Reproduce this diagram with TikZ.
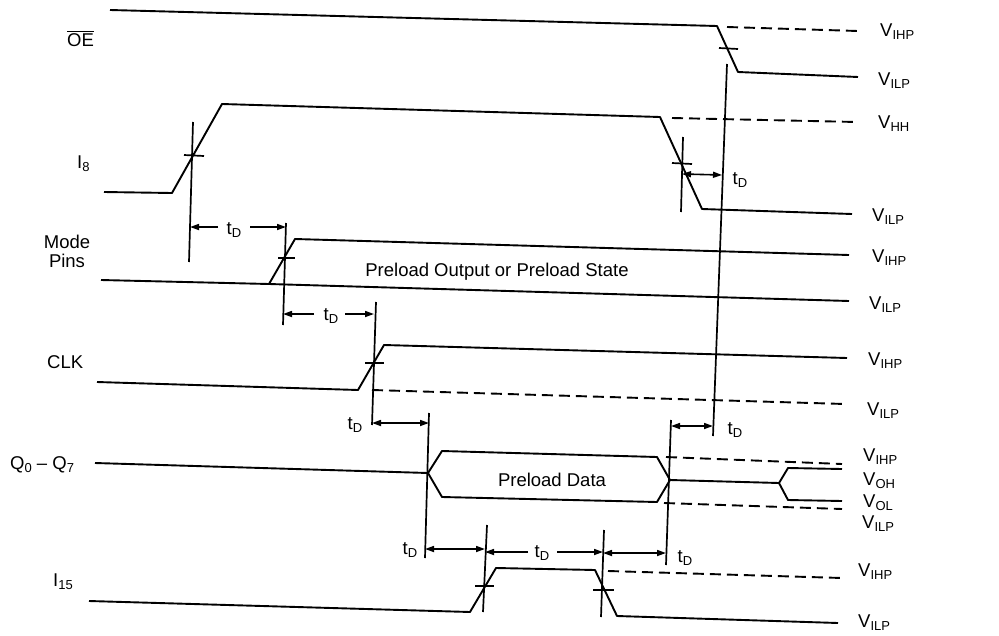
\documentclass[tikz,border=0pt]{standalone}
\usepackage{fontspec}
\setmainfont{Liberation Sans}
\usetikzlibrary{arrows.meta}
\newcommand\sbs[1]{\raisebox{-3.5pt}{\fontsize{13}{13}\selectfont #1}}
\begin{document}
\begin{tikzpicture}[x=1pt,y=-1pt,
  lab/.style={font=\fontsize{18.5}{20}\selectfont, inner sep=0pt},
  vlab/.style={lab, anchor=base west},
  sig/.style={line width=1.9pt, line join=round},
  dsh/.style={line width=1.9pt, dash pattern=on 11pt off 6pt},
  tk/.style={line width=1.7pt},
  dim/.style={line width=1.6pt, -{Triangle[length=9pt,width=6pt]}},
  ddim/.style={line width=1.6pt, {Triangle[length=9pt,width=6pt]}-{Triangle[length=9pt,width=6pt]}}]
\useasboundingbox (0,0) rectangle (999,635);

% ---------- left labels ----------
\node[vlab] (oe) at (67,46) {$\overline{\mbox{OE}}$};
\node[vlab] (i8) at (77,168) {I\sbs{8}};
\node[lab, anchor=base] (mode) at (67,248) {Mode};
\node[lab, anchor=base] (pins) at (67,267) {Pins};
\node[vlab] (clk) at (47,368) {CLK};
\node[vlab] (q) at (10,469) {Q\sbs{0} -- Q\sbs{7}};
\node[vlab] (i15) at (53,586) {I\sbs{15}};

% ---------- right labels ----------
\node[vlab] (v1) at (880,36) {V\sbs{IHP}};
\node[vlab] (v2) at (878,85) {V\sbs{ILP}};
\node[vlab] (v3) at (878,128) {V\sbs{HH}};
\node[vlab] (v4) at (872,221) {V\sbs{ILP}};
\node[vlab] (v5) at (872,262) {V\sbs{IHP}};
\node[vlab] (v6) at (869,309) {V\sbs{ILP}};
\node[vlab] (v7) at (868,365) {V\sbs{IHP}};
\node[vlab] (v8) at (867,415) {V\sbs{ILP}};
\node[vlab] (v9) at (863,461) {V\sbs{IHP}};
\node[vlab] (v10) at (863,485) {V\sbs{OH}};
\node[vlab] (v11) at (863,507) {V\sbs{OL}};
\node[vlab] (v12) at (862,528) {V\sbs{ILP}};
\node[vlab] (v13) at (858,576) {V\sbs{IHP}};
\node[vlab] (v14) at (858,627) {V\sbs{ILP}};

% ---------- inner texts ----------
\node[lab, anchor=base] (pos) at (497,276) {Preload Output or Preload State};
\node[lab, anchor=base] (pd) at (552,486) {Preload Data};

% ---------- OE ----------
\draw[sig] (110,10) -- (717,26) -- (738,72) -- (858,77);
\draw[dsh] (727,27) -- (858,31);
\draw[tk] (719,48) -- (738,49);

% ---------- I8 ----------
\draw[sig] (104,192) -- (172,193) -- (222,104) -- (660,117) -- (702,209) -- (852,214);
\draw[dsh] (672,118) -- (857,122);
\draw[tk] (193,122) -- (189,262);
\draw[tk] (184,155) -- (204,156);
\draw[tk] (683,137) -- (681,212);
\draw[tk] (672,163) -- (692,164);
\draw[ddim] (682,174) -- (722,175);
\node[lab] (td1) at (740,180) {t\sbs{D}};
% long vertical
\draw[tk] (727,64) -- (713,436);

% ---------- Mode pins ----------
\draw[sig] (101,280) -- (269,284) -- (849,301);
\draw[sig] (269,284) -- (295,239) -- (849,255);
\draw[tk] (286,223) -- (283,325);
\draw[tk] (278,258) -- (295,258);
\draw[dim] (218,227) -- (190,227);
\draw[dim] (250,227) -- (286,227);
\node[lab] (td2) at (234,230) {t\sbs{D}};
\draw[dim] (314,314) -- (283,314);
\draw[dim] (345,314) -- (374,314);
\node[lab] (td3) at (331,316) {t\sbs{D}};

% ---------- CLK ----------
\draw[sig] (97,382) -- (358,390) -- (384,345) -- (847,358);
\draw[dsh] (372,390) -- (845,404);
\draw[tk] (376,302) -- (372,425);
\draw[tk] (365,363) -- (384,363);

% ---------- Q0-Q7 ----------
\draw[sig] (95,463) -- (428,473);
\draw[sig] (428,473) -- (442,451) -- (657,457) -- (670,480);
\draw[sig] (428,473) -- (442,497) -- (657,502) -- (670,480);
\draw[sig] (670,480) -- (779,483);
\draw[sig] (779,483) -- (788,468) -- (842,469);
\draw[sig] (779,483) -- (788,500) -- (842,501);
\draw[dsh] (666,457) -- (842,464);
\draw[dsh] (664,503) -- (842,509);
\draw[tk] (429,413) -- (425,558);
\draw[tk] (671,420) -- (666,565);
\draw[ddim] (372,423) -- (429,423);
\node[lab] (td4) at (355,425) {t\sbs{D}};
\draw[ddim] (671,426) -- (713,426);
\node[lab] (td5) at (735,430) {t\sbs{D}};

% ---------- I15 ----------
\draw[sig] (89,601) -- (470,612) -- (496,568) -- (595,570) -- (617,616) -- (838,623);
\draw[dsh] (608,571) -- (842,578);
\draw[tk] (487,525) -- (483,612);
\draw[tk] (475,586) -- (494,586);
\draw[tk] (604,530) -- (601,617);
\draw[tk] (593,590) -- (614,590);
\draw[ddim] (425,549) -- (485,549);
\node[lab] (td6) at (410,550) {t\sbs{D}};
\draw[dim] (528,552) -- (485,552);
\draw[dim] (557,552) -- (603,552);
\node[lab] (td7) at (542,553) {t\sbs{D}};
\draw[ddim] (603,553) -- (666,553);
\node[lab] (td8) at (685,558) {t\sbs{D}};
\end{tikzpicture}
\end{document}
